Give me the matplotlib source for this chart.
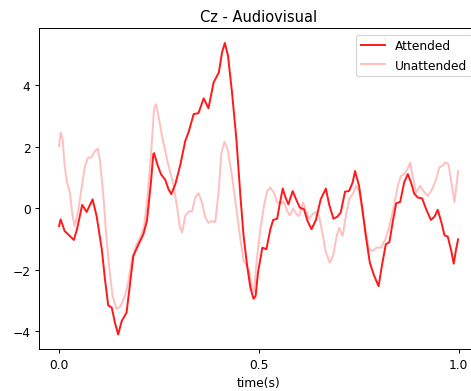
import matplotlib
matplotlib.use("Agg")
import matplotlib.pyplot as plt

# Cz grand-average waveforms (time in s)
att_t = [0.000, 0.004, 0.014, 0.027, 0.037, 0.045, 0.058, 0.069, 0.084, 0.094,
         0.107, 0.115, 0.123, 0.132, 0.140, 0.148, 0.157, 0.169, 0.178, 0.186,
         0.199, 0.211, 0.220, 0.230, 0.236, 0.238, 0.246, 0.255, 0.266, 0.274,
         0.281, 0.291, 0.303, 0.316, 0.324, 0.337, 0.349, 0.362, 0.374, 0.387,
         0.400, 0.408, 0.415, 0.423, 0.433, 0.444, 0.454, 0.462, 0.471, 0.479,
         0.487, 0.492, 0.498, 0.509, 0.519, 0.529, 0.536, 0.546, 0.553, 0.560,
         0.567, 0.574, 0.585, 0.595, 0.603, 0.613, 0.622, 0.632, 0.643, 0.655,
         0.668, 0.676, 0.687, 0.697, 0.705, 0.716, 0.726, 0.735, 0.741, 0.751,
         0.760, 0.768, 0.778, 0.789, 0.800, 0.808, 0.818, 0.827, 0.835, 0.844,
         0.854, 0.864, 0.873, 0.881, 0.889, 0.898, 0.909, 0.919, 0.931, 0.940,
         0.948, 0.957, 0.965, 0.973, 0.982, 0.988, 0.994, 0.999]
att_y = [-0.58, -0.36, -0.74, -0.90, -1.03, -0.68, 0.11, -0.12, 0.29, -0.25,
         -1.33, -2.31, -3.15, -3.23, -3.72, -4.10, -3.66, -3.39, -2.42, -1.55,
         -1.17, -0.85, -0.41, 0.84, 1.76, 1.79, 1.43, 1.11, 0.92, 0.62,
         0.46, 0.78, 1.38, 2.19, 2.46, 3.06, 3.09, 3.57, 3.25, 4.09,
         4.41, 5.06, 5.37, 4.95, 3.76, 2.24, 0.40, -0.90, -1.88, -2.58,
         -2.94, -2.85, -2.09, -1.28, -1.33, -0.68, -0.38, -0.34, 0.18, 0.64,
         0.35, 0.13, 0.56, 0.24, 0.02, -0.03, -0.41, -0.68, -0.38, 0.29,
         0.64, 0.13, -0.34, -0.27, -0.14, 0.54, 0.56, 0.84, 1.21, 0.73,
         -0.09, -0.90, -1.77, -2.20, -2.53, -1.88, -1.17, -1.10, -0.47, 0.16,
         0.21, 0.84, 1.11, 0.84, 0.48, 0.35, 0.32, -0.03, -0.38, -0.27,
         -0.05, -0.45, -0.88, -0.92, -1.39, -1.80, -1.33, -1.01]

una_t = [0.000, 0.004, 0.009, 0.014, 0.020, 0.027, 0.034, 0.039, 0.048, 0.056,
         0.065, 0.073, 0.081, 0.090, 0.097, 0.102, 0.111, 0.117, 0.126, 0.134,
         0.144, 0.154, 0.165, 0.173, 0.182, 0.193, 0.203, 0.213, 0.221, 0.230,
         0.238, 0.243, 0.251, 0.261, 0.274, 0.286, 0.295, 0.302, 0.308, 0.316,
         0.324, 0.333, 0.341, 0.349, 0.358, 0.366, 0.374, 0.383, 0.391, 0.400,
         0.406, 0.414, 0.422, 0.433, 0.444, 0.454, 0.462, 0.471, 0.477, 0.483,
         0.488, 0.496, 0.504, 0.513, 0.521, 0.529, 0.538, 0.546, 0.555, 0.563,
         0.571, 0.578, 0.586, 0.595, 0.601, 0.611, 0.619, 0.626, 0.634, 0.643,
         0.651, 0.659, 0.668, 0.678, 0.686, 0.695, 0.701, 0.710, 0.718, 0.726,
         0.735, 0.741, 0.743, 0.751, 0.760, 0.768, 0.776, 0.785, 0.795, 0.806,
         0.817, 0.827, 0.837, 0.848, 0.856, 0.864, 0.873, 0.879, 0.885, 0.894,
         0.904, 0.912, 0.923, 0.934, 0.944, 0.952, 0.961, 0.967, 0.975, 0.982,
         0.990, 0.999]
una_y = [2.01, 2.46, 2.24, 1.38, 0.84, 0.51, -0.25, -0.58, -0.09, 0.62,
         1.38, 1.65, 1.65, 1.86, 1.94, 1.59, 0.40, -0.68, -1.98, -2.85,
         -3.28, -3.18, -2.85, -2.42, -1.66, -1.20, -0.95, -0.58, 0.29, 1.70,
         3.27, 3.38, 2.84, 2.14, 1.38, 0.78, 0.08, -0.58, -0.79, -0.25,
         -0.12, -0.09, 0.35, 0.49, 0.19, -0.30, -0.47, -0.41, -0.45, 0.62,
         1.76, 2.16, 1.92, 1.05, -0.03, -1.01, -1.71, -1.88, -2.09, -2.60,
         -2.70, -1.55, -0.68, 0.08, 0.56, 0.67, 0.51, 0.19, 0.16, 0.21,
         -0.09, -0.23, -0.01, -0.20, -0.25, 0.19, -0.12, -0.36, -0.20, -0.12,
         -0.25, -0.79, -1.44, -1.77, -1.55, -0.90, -0.63, -0.90, -0.25, 0.29,
         0.46, 0.62, 0.73, 0.56, -0.14, -0.79, -1.33, -1.39, -1.28, -1.28,
         -1.01, -0.58, -0.03, 0.73, 1.05, 1.11, 1.29, 1.49, 1.05, 0.51,
         0.73, 0.56, 0.40, 0.62, 0.94, 1.32, 1.40, 1.49, 1.43, 0.84,
         0.20, 1.21]

fig = plt.figure(figsize=(471 / 88, 392 / 88), dpi=88)
ax = fig.add_axes([0.083, 0.107, 0.932, 0.818])

ax.plot(att_t, att_y, color="red", alpha=0.9, lw=1.6, label="Attended")
ax.plot(una_t, una_y, color="red", alpha=0.25, lw=1.6, label="Unattended")

ax.set_xticks([0.0, 0.5, 1.0])
ax.set_yticks([-4, -2, 0, 2, 4])
ax.set_xlabel("time(s)")
ax.set_title("Cz - Audiovisual")
ax.legend(loc="upper right")

fig.savefig("out.png", dpi=88)
